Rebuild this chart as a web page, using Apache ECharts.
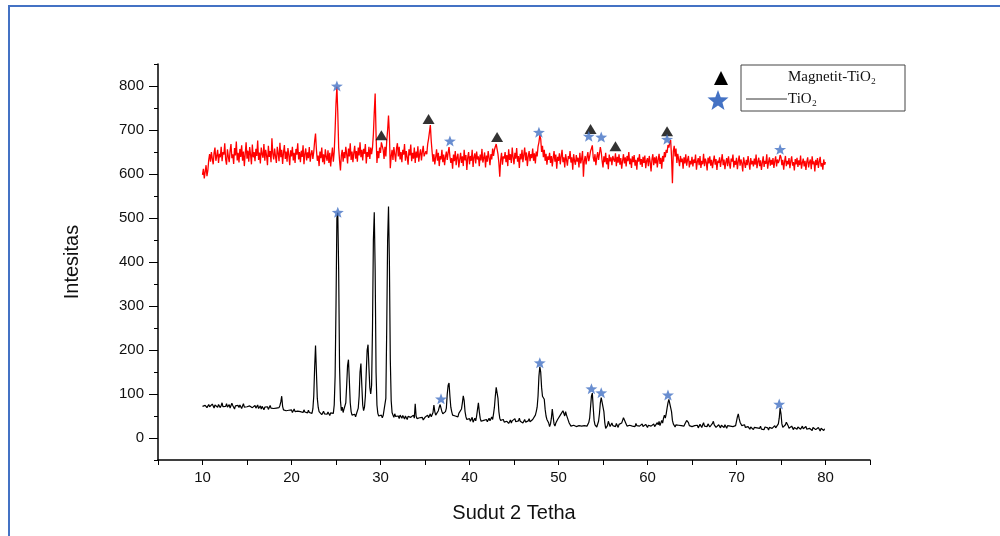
<!DOCTYPE html>
<html>
<head>
<meta charset="utf-8">
<script src="https://cdn.jsdelivr.net/npm/echarts@6.0.0/dist/echarts.min.js"></script>
<style>
  html, body { margin: 0; padding: 0; background: #fff; }
  #chart { width: 1000px; height: 536px; }
</style>
</head>
<body>
<div id="chart"></div>
<script>
// scan: 10.0 .. 80.0 deg, step 0.1
const xStart = 10;
const xStep = 0.1;

// upper pattern (red), one row per degree
const redIntensity = [
  598,612,590,605,620,595,608,632,645,628,
  650,635,622,648,660,630,641,655,625,646,
  638,662,629,650,644,670,633,621,656,640,
  627,652,668,636,645,623,659,642,674,631,
  648,626,657,639,665,630,651,618,646,672,
  635,653,628,661,644,622,667,638,650,629,
  657,641,676,632,649,624,660,645,637,668,
  630,655,642,620,664,639,652,627,681,646,
  633,658,640,625,662,647,629,671,638,655,
  623,649,666,634,651,628,659,643,620,654,
  640,662,631,648,625,657,644,670,633,650,
  627,653,639,665,622,646,658,631,649,636,
  661,628,645,654,634,650,675,692,655,630,
  642,618,651,636,660,627,645,622,656,639,
  630,654,625,648,617,641,660,628,650,700,
  760,798,740,660,630,608,642,655,628,650,
  636,662,645,624,658,640,670,632,651,627,
  648,664,635,652,628,660,642,672,638,655,
  631,657,646,668,624,650,639,662,634,660,
  645,660,690,740,783,690,625,652,636,660,
  648,672,675,655,634,662,640,675,700,733,
  690,613,640,655,632,661,645,628,658,670,
  640,662,633,650,627,655,644,668,630,652,
  638,621,656,642,667,629,648,635,660,625,
  651,637,663,628,645,656,631,650,664,640,
  640,652,645,668,680,695,711,675,650,628,
  645,622,638,656,630,648,618,641,633,655,
  627,644,620,639,651,632,648,661,640,625,
  636,612,644,629,652,620,638,646,615,633,
  648,625,640,618,655,631,643,609,637,650,
  622,641,630,655,616,638,647,624,651,633,
  640,618,644,631,657,626,636,649,615,642,
  628,652,637,620,645,633,658,641,655,662,
  668,672,645,625,594,632,648,621,640,635,
  650,627,643,618,656,632,645,625,660,638,
  622,648,635,659,628,641,614,646,633,655,
  627,644,660,631,649,618,640,652,629,645,
  636,658,630,647,624,651,640,662,672,688,
  680,650,664,638,655,630,646,621,640,632,
  648,625,641,617,636,652,628,644,612,639,
  630,647,622,640,655,627,638,615,645,632,
  619,641,634,652,626,638,610,645,630,621,
  643,628,637,615,648,624,635,652,594,630,
  641,622,638,650,629,640,652,658,665,638,
  628,645,620,637,650,632,646,661,650,630,
  615,640,627,648,622,636,611,644,629,638,
  620,641,633,628,647,618,639,626,645,621,
  636,612,630,645,624,638,617,641,629,650,
  622,635,614,640,627,643,619,632,610,637,
  628,645,621,634,616,639,625,642,613,630,
  636,618,641,627,606,633,645,620,638,624,
  640,615,632,646,623,637,612,641,628,650,
  638,655,648,666,660,672,677,640,579,652,
  664,640,658,625,646,633,618,641,627,635,
  612,638,624,645,619,632,641,615,630,622,
  639,617,633,625,644,610,628,636,620,641,
  614,630,622,646,618,635,627,608,637,624,
  640,619,632,613,628,642,621,634,609,630,
  625,638,616,631,645,620,633,611,627,636,
  618,640,624,612,635,628,644,615,630,621,
  637,611,629,642,619,633,624,606,638,626,
  614,632,620,641,625,610,636,622,630,617,
  635,621,644,613,628,637,618,631,609,626,
  640,616,630,623,645,612,627,638,619,632,
  621,636,614,629,640,617,633,625,631,643,
  638,620,632,610,628,641,618,630,622,636,
  613,629,640,619,627,608,634,622,637,616,
  631,620,642,612,626,635,617,630,609,628,
  638,615,627,633,611,640,622,629,606,632,
  620,636,614,628,639,617,625,610,633,621,
  627
];

// lower pattern (black)
const blackIntensity = [
  72,75,70,74,78,69,73,76,71,74,
  70,77,73,68,75,79,72,70,76,73,
  69,74,80,71,67,75,72,78,70,73,
  76,68,72,79,74,70,66,73,77,71,
  74,69,75,71,67,73,78,70,72,66,
  71,75,68,73,70,76,69,65,72,74,
  68,71,75,67,70,73,66,72,69,64,
  70,73,67,71,65,69,74,68,66,71,
  67,64,70,68,72,65,69,74,82,95,
  72,64,60,66,62,65,59,63,67,61,
  64,58,62,66,60,57,63,61,59,65,
  60,56,62,58,64,59,55,61,57,63,
  58,54,60,56,66,95,160,210,150,90,
  70,60,56,58,53,57,61,55,52,58,
  54,59,55,51,57,53,60,56,75,140,
  300,500,512,380,160,85,62,70,58,66,
  62,80,120,165,178,130,80,60,52,56,
  50,54,48,55,58,68,95,150,169,120,
  75,62,70,95,150,200,212,160,115,100,
  120,250,450,513,380,150,75,56,50,54,
  48,52,46,51,55,49,90,250,450,526,
  400,180,85,58,52,47,55,49,53,46,
  50,44,52,48,45,51,47,43,50,46,
  42,49,45,51,47,43,48,52,45,78,
  50,44,48,42,46,50,43,47,41,45,
  47,43,49,52,46,50,55,48,53,58,
  75,60,52,56,50,62,70,76,72,60,
  55,58,52,60,68,100,120,125,95,70,
  60,52,48,55,50,46,52,48,56,60,
  60,66,80,96,85,60,48,42,46,40,
  44,38,42,47,36,40,45,39,50,65,
  80,60,45,38,42,36,40,44,38,42,
  37,41,45,39,43,48,42,55,70,95,
  115,118,90,60,45,40,44,38,42,36,
  40,35,38,42,33,37,41,34,39,36,
  40,44,37,41,35,39,45,38,42,36,
  34,38,42,36,40,35,39,44,37,33,
  38,42,40,46,52,60,70,95,140,162,
  150,115,95,92,88,65,50,42,38,34,
  26,32,45,66,48,32,27,34,38,42,
  40,46,52,48,55,62,58,50,60,52,
  48,40,34,30,27,31,26,29,25,28,
  26,30,25,28,24,29,27,25,30,28,
  26,29,27,30,35,45,70,95,102,70,
  40,30,27,25,29,38,55,80,92,96,
  88,60,35,22,18,28,38,32,26,30,
  34,28,25,30,26,33,29,24,31,27,
  30,34,40,46,50,42,32,27,31,26,
  29,25,31,27,24,30,26,33,28,25,
  30,27,24,29,32,26,23,28,31,27,
  24,29,26,31,27,23,28,32,26,30,
  27,35,30,38,28,32,40,34,45,52,
  45,55,68,80,88,90,84,60,40,32,
  28,25,30,27,33,29,26,31,28,24,
  30,27,32,36,40,44,35,28,25,29,
  26,30,24,28,32,25,29,23,27,31,
  28,24,30,35,27,23,29,26,32,28,
  25,29,27,33,38,30,26,24,28,25,
  30,26,23,29,32,27,24,30,26,22,
  28,25,31,27,23,29,26,30,24,28,
  32,48,55,44,36,33,28,31,26,30,
  24,27,21,26,23,20,25,28,22,19,
  24,21,26,23,19,25,22,27,20,24,
  22,19,25,21,27,23,18,24,21,26,
  22,20,25,28,23,21,26,32,45,68,
  55,32,24,20,26,30,36,40,28,22,
  25,21,27,23,19,24,28,22,20,25,
  22,26,20,24,27,21,18,23,26,20,
  24,19,22,26,21,17,24,20,23,19,
  21,18,24,20,16,22,19,23,17,21,
  18
];

// peak markers [2theta, marker height]
const magnetitePeaks = [[30.1, 688], [35.4, 725], [43.1, 684], [53.6, 702], [56.4, 663], [62.2, 697]];
const tio2PeaksRed = [[25.1, 800], [37.8, 675], [47.8, 695], [53.4, 686], [54.8, 684], [62.2, 679], [74.9, 656]];
const tio2PeaksBlack = [[25.2, 513], [36.8, 89], [47.9, 171], [53.7, 112], [54.8, 103], [62.3, 98], [74.8, 77]];

const xTickLabels = [10, 20, 30, 40, 50, 60, 70, 80];
const yTickLabels = [0, 100, 200, 300, 400, 500, 600, 700, 800];

const toPairs = arr => arr.map((v, i) => [+(xStart + i * xStep).toFixed(1), v]);

const starPath = 'path://M0,-11L2.7,-3.7L10.5,-3.4L4.4,1.4L6.5,8.9L0,4.6L-6.5,8.9L-4.4,1.4L-10.5,-3.4L-2.7,-3.7Z';
const blue = '#4472c4';
const labelFont = { color: '#111', fontSize: 15, fontFamily: 'Liberation Sans' };

const chart = echarts.init(document.getElementById('chart'));

chart.setOption({
  animation: false,
  backgroundColor: '#fff',
  grid: { left: 158, right: 130, top: 64, bottom: 76 },
  xAxis: {
    type: 'value',
    min: 5,
    max: 85,
    interval: 5,
    name: 'Sudut 2 Tetha',
    nameLocation: 'middle',
    nameGap: 43,
    nameTextStyle: { color: '#111', fontSize: 20, fontFamily: 'Liberation Sans' },
    axisLine: { onZero: false, lineStyle: { color: '#000', width: 1.5 } },
    axisTick: { length: 5, lineStyle: { color: '#000' } },
    axisLabel: Object.assign({ margin: 10, customValues: xTickLabels }, labelFont),
    splitLine: { show: false }
  },
  yAxis: [
    {
      type: 'value',
      min: -50,
      max: 850,
      interval: 50,
      name: 'Intesitas',
      nameLocation: 'middle',
      nameGap: 76,
      nameTextStyle: { color: '#111', fontSize: 20, fontFamily: 'Liberation Sans' },
      axisLine: { show: true, onZero: false, lineStyle: { color: '#000', width: 1.5 } },
      axisTick: { show: true, length: 4, lineStyle: { color: '#000' } },
      axisLabel: Object.assign({ margin: 14, customValues: yTickLabels }, labelFont),
      splitLine: { show: false }
    },
    {
      type: 'value',
      position: 'left',
      min: -50,
      max: 850,
      interval: 50,
      axisLine: { show: false },
      axisTick: { show: true, length: 9, customValues: yTickLabels, lineStyle: { color: '#000' } },
      axisLabel: { show: false },
      splitLine: { show: false }
    }
  ],
  series: [
    {
      name: 'Magnetit-TiO2',
      type: 'line',
      data: toPairs(redIntensity),
      showSymbol: false,
      symbol: 'none',
      lineStyle: { color: '#ff0000', width: 1.3 },
      z: 2
    },
    {
      name: 'TiO2',
      type: 'line',
      data: toPairs(blackIntensity),
      showSymbol: false,
      symbol: 'none',
      lineStyle: { color: '#000', width: 1.2 },
      z: 2
    },
    {
      type: 'scatter',
      data: magnetitePeaks,
      symbol: 'triangle',
      symbolSize: [12, 10],
      itemStyle: { color: '#000' },
      z: 5
    },
    {
      type: 'scatter',
      data: tio2PeaksRed.concat(tio2PeaksBlack),
      symbol: starPath,
      symbolSize: [12, 11],
      itemStyle: { color: blue },
      z: 5
    }
  ],
  graphic: [
    // page frame
    { type: 'line', shape: { x1: 9, y1: 6, x2: 9, y2: 536 }, style: { stroke: blue, lineWidth: 2 } },
    { type: 'line', shape: { x1: 8, y1: 6, x2: 1000, y2: 6 }, style: { stroke: blue, lineWidth: 2 } },
    // legend box
    { type: 'rect', shape: { x: 741, y: 65, width: 164, height: 46 }, style: { fill: 'none', stroke: '#444', lineWidth: 1 } },
    { type: 'text', x: 788, y: 77, style: { text: 'Magnetit-TiO₂', fill: '#111', font: '15px "Liberation Serif"', verticalAlign: 'middle' } },
    { type: 'line', shape: { x1: 746, y1: 99, x2: 787, y2: 99 }, style: { stroke: '#333', lineWidth: 1 } },
    { type: 'text', x: 788, y: 99, style: { text: 'TiO₂', fill: '#111', font: '15px "Liberation Serif"', verticalAlign: 'middle' } },
    { type: 'polygon', shape: { points: [[714, 85], [728, 85], [721, 71]] }, style: { fill: '#000' } },
    {
      type: 'polygon',
      x: 718,
      y: 101,
      shape: { points: [[0, -11], [2.7, -3.7], [10.5, -3.4], [4.4, 1.4], [6.5, 8.9], [0, 4.6], [-6.5, 8.9], [-4.4, 1.4], [-10.5, -3.4], [-2.7, -3.7]] },
      style: { fill: blue }
    }
  ]
});
</script>
</body>
</html>
